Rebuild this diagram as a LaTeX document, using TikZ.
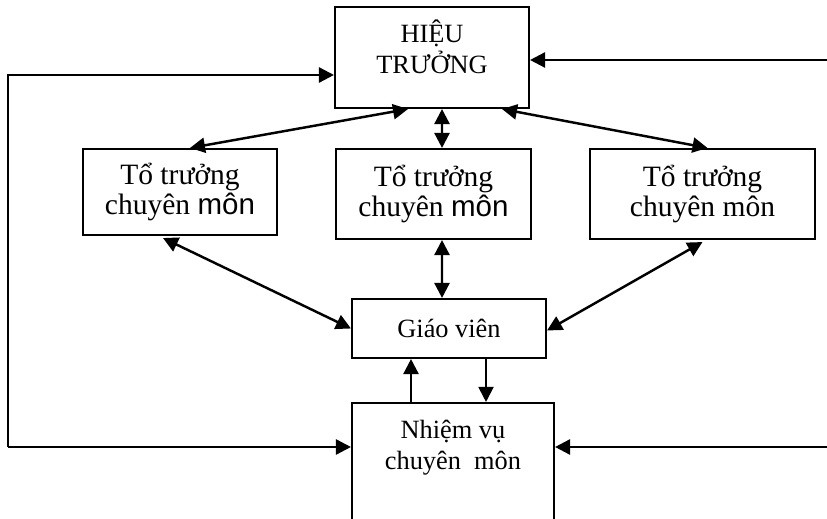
\documentclass[tikz,border=0pt]{standalone}
\usepackage{fontspec}
\setmainfont{Liberation Serif}
\newfontfamily\arialfont{Liberation Sans}
\usetikzlibrary{arrows.meta, calc}

\begin{document}
\begin{tikzpicture}[x=0.02cm,y=-0.02cm,>={Triangle[length=0.3cm,width=0.3cm]}]
\tikzset{
  bx/.style={rectangle,draw=black,line width=1.2pt,inner sep=0pt,align=center,font=\fontsize{16.8}{17}\selectfont},
  tx/.style={align=center,inner sep=0pt,font=\fontsize{15}{17.8}\selectfont},
  ar/.style={->,line width=1.4pt},
  dar/.style={<->,line width=1.4pt}
}
\useasboundingbox (0,0) rectangle (827,519);
% boxes
\node[bx,minimum width=3.88cm,minimum height=2.02cm] (ht) at (432,57.5) {};
\node[tx] (htt) at (432,47) {HIỆU\\TRƯỞNG};
\node[bx,minimum width=3.88cm,minimum height=1.72cm] (tl) at (180,192) {Tổ trưởng\\chuyên {\arialfont môn}};
\node[bx,minimum width=3.90cm,minimum height=1.80cm] (tm) at (433.5,194) {Tổ trưởng\\chuyên {\arialfont môn}};
\node[bx,minimum width=4.50cm,minimum height=1.80cm] (tr) at (702.5,194) {Tổ trưởng\\chuyên môn};
\node[bx,minimum width=3.88cm,minimum height=1.18cm,font=\fontsize{15}{17}\selectfont] (gv) at (449,328.5) {Giáo viên};
\node[bx,minimum width=4.04cm,minimum height=3.14cm] (nv) at (453,481.5) {};
\node[tx] (nvt) at (453,448) {Nhiệm vụ\\chuyên\ \ môn};
% outer loop
\coordinate (rt) at (827,60);
\coordinate (lt) at (8,75);
\coordinate (lb) at (8,447);
\coordinate (rb) at (827,447);
\draw[ar] (rt) -- (rt -| ht.east);
\draw[ar] (lb) -- (lt) -- (lt -| ht.west);
\draw[ar] (lb) -- (lb -| nv.west);
\draw[ar] (rb) -- (rb -| nv.east);
% links
\draw[dar] ($(ht.south)+(-24,0)$) -- ($(tl.north)+(10,0)$);
\draw[dar] ($(ht.south)+(10,0)$) -- ($(tm.north)+(8.5,0)$);
\draw[dar] ($(ht.south)+(70,0)$) -- ($(tr.north)+(5,0)$);
\draw[dar] ($(tl.south)+(-17,2)$) -- (gv.west);
\draw[dar] ($(tm.south)+(8.5,0)$) -- ($(gv.north)+(-7,0)$);
\draw[dar] ($(tr.south)+(0,2)$) -- ($(gv.east)+(0,2)$);
\draw[ar] ($(nv.north)+(-42,0)$) -- ($(gv.south)+(-38,0)$);
\draw[ar,line width=1.1pt] ($(gv.south)+(37,0)$) -- ($(nv.north)+(33,0)$);
\end{tikzpicture}
\end{document}
